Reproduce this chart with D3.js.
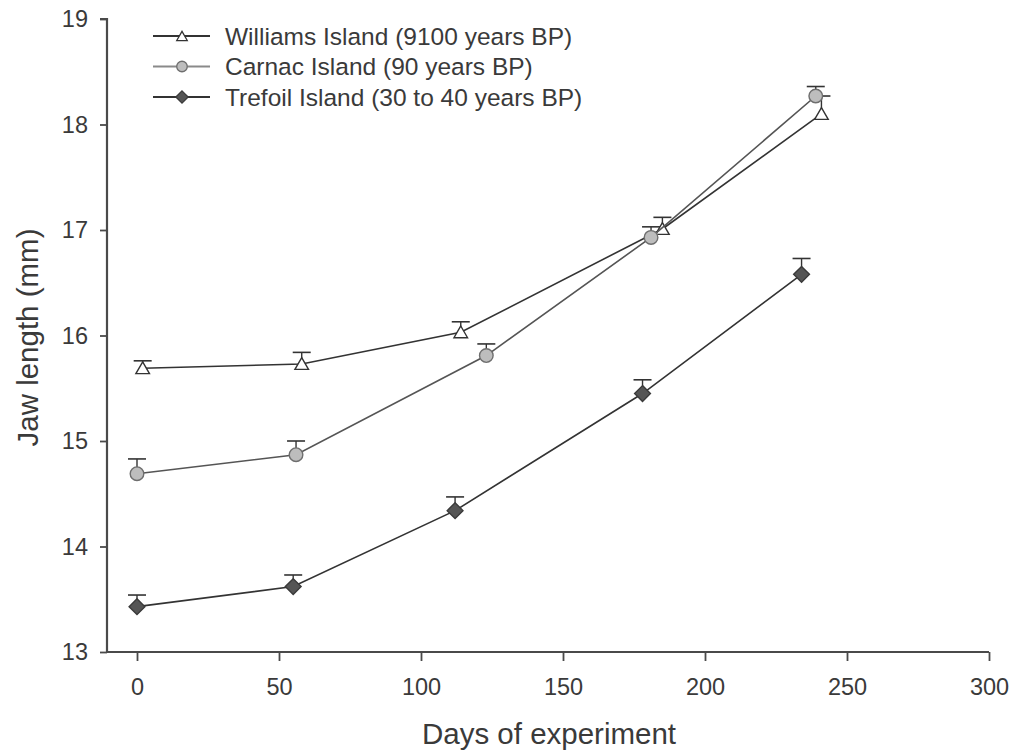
<!DOCTYPE html>
<html>
<head>
<meta charset="utf-8">
<script src="https://cdn.jsdelivr.net/npm/d3@7"></script>
<style>
  html, body { margin: 0; padding: 0; background: #fff; }
  svg { display: block; font-family: "Liberation Sans", Arial, Helvetica, sans-serif; }
</style>
</head>
<body>
<svg id="chart" width="1015" height="755"></svg>
<script>
// Jaw length over the course of the experiment, mean ± SE
const seriesNames = [
  "Williams Island (9100 years BP)",
  "Carnac Island (90 years BP)",
  "Trefoil Island (30 to 40 years BP)"
];
const williamsDays = [2, 58, 114, 185, 241];
const williamsLen  = [15.69, 15.73, 16.03, 17.01, 18.10];
const williamsErr  = [0.07, 0.11, 0.10, 0.11, 0.17];

const carnacDays = [0, 56, 123, 181, 239];
const carnacLen  = [14.69, 14.87, 15.81, 16.93, 18.27];
const carnacErr  = [0.14, 0.13, 0.11, 0.10, 0.09];

const trefoilDays = [0, 55, 112, 178, 234];
const trefoilLen  = [13.43, 13.62, 14.34, 15.45, 16.58];
const trefoilErr  = [0.11, 0.11, 0.13, 0.13, 0.15];

const xTicks = [0, 50, 100, 150, 200, 250, 300];
const yTicks = [13, 14, 15, 16, 17, 18, 19];

const svg = d3.select("#chart");
const x = d3.scaleLinear().domain([0, 300]).range([137, 989]);
const y = d3.scaleLinear().domain([13, 19]).range([652, 19]);
const axisLeftX = 107;

const axisColor = "#4a4a4a";
const textColor = "#3a3a3a";

// Axes
const xAxis = svg.append("g")
  .attr("transform", `translate(0,${y(13)})`)
  .call(d3.axisBottom(x).tickValues(xTicks).tickFormat(d3.format("d"))
    .tickSize(9).tickPadding(17).tickSizeOuter(0));
xAxis.select(".domain").attr("d", `M${axisLeftX},0H${x(300)}`);

const yAxis = svg.append("g")
  .attr("transform", `translate(${axisLeftX},0)`)
  .call(d3.axisLeft(y).tickValues(yTicks).tickFormat(d3.format("d"))
    .tickSize(7).tickPadding(12).tickSizeOuter(0));
yAxis.select(".domain").attr("d", `M-7,${y(19)}H0V${y(13)}`);

[xAxis, yAxis].forEach(g => {
  g.select(".domain").attr("stroke", axisColor).attr("stroke-width", 2.2);
  g.selectAll(".tick line").attr("stroke", axisColor).attr("stroke-width", 1.8);
  g.selectAll(".tick text").attr("fill", textColor).attr("font-size", 23.5)
    .attr("font-family", "'Liberation Sans', Arial, sans-serif");
});

// Axis titles
svg.append("text")
  .attr("x", 549).attr("y", 744)
  .attr("text-anchor", "middle").attr("font-size", 29.5).attr("fill", textColor)
  .text("Days of experiment");
svg.append("text")
  .attr("transform", `translate(38,${y(16) + 2}) rotate(-90)`)
  .attr("text-anchor", "middle").attr("font-size", 29.5).attr("fill", textColor)
  .text("Jaw length (mm)");

// Series
const diamond = {
  draw(ctx, size) {
    const r = Math.sqrt(size / 2);
    ctx.moveTo(0, -r); ctx.lineTo(r, 0); ctx.lineTo(0, r); ctx.lineTo(-r, 0); ctx.closePath();
  }
};
const series = [
  { name: seriesNames[0], days: williamsDays, len: williamsLen, err: williamsErr,
    shape: d3.symbolTriangle, size: 80, dy: 1.5, fill: "#fff", stroke: "#333", line: "#333", legendLine: "#333" },
  { name: seriesNames[1], days: carnacDays, len: carnacLen, err: carnacErr,
    shape: d3.symbolCircle, size: 145, dy: 0, fill: "#bdbdbd", stroke: "#6e6e6e", line: "#555", legendLine: "#8a8a8a" },
  { name: seriesNames[2], days: trefoilDays, len: trefoilLen, err: trefoilErr,
    shape: diamond, size: 125, dy: 0, fill: "#555", stroke: "#3a3a3a", line: "#333", legendLine: "#333" }
];

const line = d3.line().x(d => x(d.d)).y(d => y(d.v));

series.forEach(s => {
  const pts = s.days.map((d, i) => ({ d, v: s.len[i], e: s.err[i] }));
  const g = svg.append("g");
  g.append("path").datum(pts).attr("d", line)
    .attr("fill", "none").attr("stroke", s.line).attr("stroke-width", 1.6);
  // upper error bars
  const eb = g.selectAll(".eb").data(pts).enter().append("g");
  eb.append("line")
    .attr("x1", d => x(d.d)).attr("x2", d => x(d.d))
    .attr("y1", d => y(d.v)).attr("y2", d => y(d.v + d.e))
    .attr("stroke", "#333").attr("stroke-width", 1.4);
  eb.append("line")
    .attr("x1", d => x(d.d) - 9).attr("x2", d => x(d.d) + 9)
    .attr("y1", d => y(d.v + d.e)).attr("y2", d => y(d.v + d.e))
    .attr("stroke", "#333").attr("stroke-width", 1.6);
  g.selectAll(".pt").data(pts).enter().append("path")
    .attr("d", d3.symbol().type(s.shape).size(s.size))
    .attr("transform", d => `translate(${x(d.d)},${y(d.v) + s.dy})`)
    .attr("fill", s.fill).attr("stroke", s.stroke).attr("stroke-width", 1.4);
});

// Legend
const legend = svg.append("g").attr("transform", "translate(153,36)");
series.forEach((s, i) => {
  const row = legend.append("g").attr("transform", `translate(0,${i * 30.5})`);
  row.append("line").attr("x1", 0).attr("x2", 57).attr("y1", 0).attr("y2", 0)
    .attr("stroke", s.legendLine).attr("stroke-width", 1.8);
  row.append("path")
    .attr("d", d3.symbol().type(s.shape).size(s.size * 0.6))
    .attr("transform", `translate(29,${s.dy})`)
    .attr("fill", s.fill).attr("stroke", s.stroke).attr("stroke-width", 1.3);
  row.append("text").attr("x", 72).attr("y", 0).attr("dy", "0.36em")
    .attr("font-size", 24.5).attr("fill", textColor).text(s.name);
});
</script>
</body>
</html>
